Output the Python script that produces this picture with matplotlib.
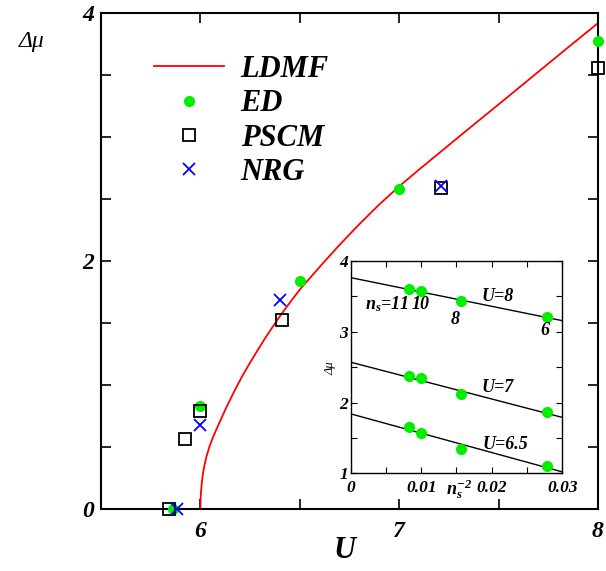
import matplotlib
matplotlib.use('Agg')
import matplotlib.pyplot as plt
from matplotlib.ticker import MultipleLocator

plt.rcParams['font.family'] = ['Liberation Serif', 'DejaVu Serif']
plt.rcParams['mathtext.fontset'] = 'custom'
plt.rcParams['mathtext.rm'] = 'Liberation Serif:bold:italic'
plt.rcParams['mathtext.it'] = 'Liberation Serif:bold:italic'
plt.rcParams['mathtext.bf'] = 'Liberation Serif:bold:italic'

# main panel data
ldmf_u = [6.0, 6.001, 6.003, 6.007, 6.012, 6.02, 6.03, 6.045, 6.065, 6.087,
          6.125, 6.163, 6.205, 6.247, 6.29, 6.331, 6.373, 6.415, 6.457,
          6.499, 6.6, 6.7, 6.8, 6.9, 7.0, 7.1, 7.339, 7.5, 7.675, 7.85, 8.0]
ldmf_gap = [0.0, 0.08, 0.14, 0.21, 0.28, 0.35, 0.42, 0.50, 0.585, 0.665,
            0.80, 0.925, 1.055, 1.172, 1.285, 1.39, 1.49, 1.587, 1.678,
            1.766, 1.951, 2.128, 2.296, 2.454, 2.60, 2.735, 3.05, 3.26,
            3.49, 3.72, 3.915]

ed_u = [5.86, 6.0, 6.5, 7.0, 8.0]
ed_gap = [0.0, 0.83, 1.84, 2.58, 3.77]

pscm_u = [5.84, 5.92, 6.0, 6.41, 7.21, 8.0]
pscm_gap = [0.0, 0.56, 0.79, 1.52, 2.59, 3.55]

nrg_u = [5.88, 6.0, 6.40, 7.21]
nrg_gap = [0.0, 0.68, 1.68, 2.60]

# inset: ED gap vs 1/ns^2
ns = [11, 10, 8, 6]
inv_ns2 = [1.0 / n ** 2 for n in ns]
gap_u8 = [3.60, 3.58, 3.43, 3.21]
gap_u7 = [2.38, 2.34, 2.12, 1.87]
gap_u65 = [1.65, 1.575, 1.34, 1.10]
fit_x = [0.0, 0.03]
fit_u8 = [3.765, 3.157]
fit_u7 = [2.57, 1.79]
fit_u65 = [1.84, 1.02]

green = '#00ee00'

fig = plt.figure(figsize=(6.06, 5.71), dpi=100)
ax = fig.add_axes([0.1667, 0.1086, 0.8201, 0.8694])

ax.plot(ldmf_u, ldmf_gap, color='red', lw=1.3, label='LDMF', zorder=2)
ax.plot(ed_u, ed_gap, 'o', color=green, ms=8, mec='none', label='ED',
        clip_on=False, zorder=3)
ax.plot(pscm_u, pscm_gap, 's', mfc='none', mec='black', mew=1.3, ms=8.5,
        label='PSCM', clip_on=False, zorder=4)
ax.plot(nrg_u, nrg_gap, 'x', color='blue', ms=9, mew=1.3, label='NRG',
        clip_on=False, zorder=5)

ax.set_xlim(5.5, 8)
ax.set_ylim(0, 4)
ax.xaxis.set_major_locator(MultipleLocator(1))
ax.xaxis.set_minor_locator(MultipleLocator(0.5))
ax.yaxis.set_major_locator(MultipleLocator(2))
ax.yaxis.set_minor_locator(MultipleLocator(0.5))
ax.tick_params(which='both', direction='in', top=True, right=True,
               length=7, width=1.2)
ax.tick_params(axis='x', pad=9)
ax.tick_params(axis='y', pad=5)
for lab in ax.get_xticklabels() + ax.get_yticklabels():
    lab.set_fontsize(17)
    lab.set_fontweight('bold')
    lab.set_fontstyle('italic')
for sp in ax.spines.values():
    sp.set_linewidth(1.5)

fig.text(32 / 606, 1 - 42 / 571, 'Δμ', fontsize=17, style='italic',
         ha='center', va='center')
fig.text(345 / 606, 1 - 550 / 571, 'U', fontsize=22, style='italic',
         weight='bold', ha='center', va='center')

leg = ax.legend(loc='upper left', bbox_to_anchor=(0.075, 0.945),
                frameon=False, handlelength=2.3, handletextpad=0.55,
                labelspacing=0.17, borderpad=0,
                prop={'size': 22, 'weight': 'bold', 'style': 'italic'})

# inset
axi = fig.add_axes([0.5787, 0.1711, 0.3492, 0.3718])
for fx, fy in [(fit_x, fit_u8), (fit_x, fit_u7), (fit_x, fit_u65)]:
    axi.plot(fx, fy, color='black', lw=1.0, zorder=2)
for gy in [gap_u8, gap_u7, gap_u65]:
    axi.plot(inv_ns2, gy, 'o', color=green, ms=8, mec='none', zorder=3,
             clip_on=False)
axi.set_xlim(0, 0.03)
axi.set_ylim(1, 4)
axi.xaxis.set_major_locator(MultipleLocator(0.01))
axi.xaxis.set_minor_locator(MultipleLocator(0.005))
axi.yaxis.set_major_locator(MultipleLocator(1))
axi.yaxis.set_minor_locator(MultipleLocator(0.5))
axi.tick_params(which='both', direction='in', top=True, right=True,
                length=4, width=0.8)
axi.tick_params(axis='x', pad=5)
axi.tick_params(axis='y', pad=2)
axi.set_xticks([0, 0.01, 0.02, 0.03])
axi.set_xticklabels(['0', '0.01', '0.02', '0.03'])
axi.set_yticks([1, 2, 3, 4])
axi.set_yticklabels(['1', '2', '3', '4'])
for lab in axi.get_xticklabels() + axi.get_yticklabels():
    lab.set_fontsize(12.5)
    lab.set_fontweight('bold')
    lab.set_fontstyle('italic')
for sp in axi.spines.values():
    sp.set_linewidth(1.0)

txt = dict(fontsize=13, weight='bold', style='italic', ha='center',
           va='center')
axi.text(0.0052, 3.39, '$n_s$=11', **txt)
axi.text(0.0099, 3.38, '10', **txt)
axi.text(0.0148, 3.18, '8', **txt)
axi.text(0.0275, 3.02, '6', **txt)
axi.text(0.0209, 3.50, 'U=8', **txt)
axi.text(0.0209, 2.21, 'U=7', **txt)
axi.text(0.0219, 1.41, 'U=6.5', **txt)
axi.text(0.0154, 0.78, '$n_s^{-2}$', fontsize=13, ha='center', va='center',
         clip_on=False)
fig.text(330 / 606, 1 - 368 / 571, 'Δμ', fontsize=9, style='italic',
         rotation=90, ha='center', va='center')

fig.savefig('out.png', dpi=100)
